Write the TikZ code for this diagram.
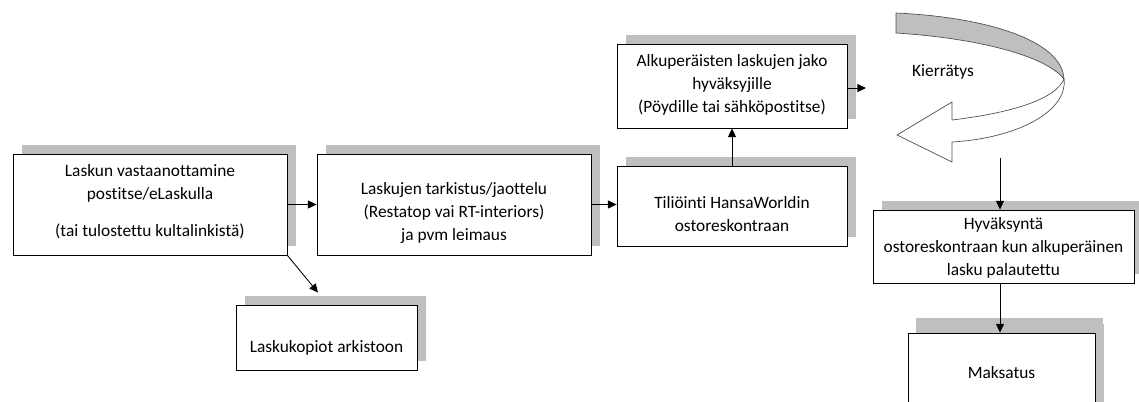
\documentclass[tikz,border=0pt]{standalone}
\usepackage{fontspec}
\setmainfont{Carlito}[Ligatures=NoCommon]
\usetikzlibrary{shadows,arrows.meta}

\begin{document}
\begin{tikzpicture}
 [x=0.75pt, y=-0.75pt, >={Triangle[length=6.5pt,width=6pt]},
  box/.style={draw, line width=0.65pt, fill=white,
    drop shadow={shadow xshift=7pt, shadow yshift=7pt, fill=black!25, opacity=1}},
  txt/.style={align=center, font=\fontsize{13}{17.25}\selectfont},
  link/.style={->, line width=0.65pt}]

\useasboundingbox (0,0) rectangle (1139,401);

% boxes
\node[box, minimum width=205.5pt, minimum height=75.75pt] (vastaanotto) at (150,204.5) {};
\node[box, minimum width=205.5pt, minimum height=75.75pt] (tarkistus) at (454,204.5) {};
\node[box, minimum width=172.5pt, minimum height=60pt] (tiliointi) at (732,206) {};
\node[box, minimum width=172.5pt, minimum height=63pt] (jako) at (732,86) {};
\node[box, minimum width=135.75pt, minimum height=48.75pt] (arkisto) at (326.5,337.5) {};
\node[box, minimum width=195.75pt, minimum height=54.75pt] (hyvaksynta) at (1003.5,246.5) {};
\node[box, minimum width=140.25pt, minimum height=60pt,
  drop shadow={shadow xshift=6pt, shadow yshift=11pt, fill=black!25, opacity=1}] (maksatus) at (1001.5,373) {};

% texts
\node[txt] (vastaanotto-t) at (150,202) {Laskun vastaanottamine\\ postitse/eLaskulla\\[10.5pt] (tai tulostettu kultalinkistä)};
\node[txt] (tarkistus-t) at (454,213) {Laskujen tarkistus/jaottelu\\ (Restatop vai RT-interiors)\\ ja pvm leimaus};
\node[txt] (tiliointi-t) at (732,214.5) {Tiliöinti HansaWorldin\\ ostoreskontraan};
\node[txt] (jako-t) at (732,85) {Alkuperäisten laskujen jako\\ hyväksyjille\\ (Pöydille tai sähköpostitse)};
\node[txt] (arkisto-t) at (326.5,348) {Laskukopiot arkistoon};
\node[txt] (hyvaksynta-t) at (1003.5,248) {Hyväksyntä\\ ostoreskontraan kun alkuperäinen\\ lasku palautettu};
\node[txt] (maksatus-t) at (1001.5,373) {Maksatus};
\node[txt] (kierto-t) at (943,72) {Kierrätys};

% curved arrow
\fill[black!25, draw=black!70, line width=0.5pt] (896,13) .. controls (985,17) and (1062,40) .. (1064,79)
  .. controls (1045,55) and (975,38) .. (896,33) -- cycle;
\draw[fill=white, draw=black!70, line width=0.5pt] (1064,79) .. controls (1068,110) and (1020,138) .. (952,142)
  -- (952,162) -- (897,135) -- (952,102) -- (952,120)
  .. controls (1010,113) and (1055,100) .. (1064,79);

\coordinate (kierto-in) at (866,88);
\coordinate (kierto-out) at (1000,158);

% connectors
\draw[link] (vastaanotto.east) -- (tarkistus.west);
\draw[link] (tarkistus.east) -- (tarkistus.east -| tiliointi.west);
\draw[link] (tiliointi.north) -- (jako.south);
\draw[link] (jako.east |- kierto-in) -- (kierto-in);
\draw[link] (vastaanotto.south east) -- ([shift={(-8.5,-12)}]arkisto.north);
\draw[link] (kierto-out) -- (kierto-out |- hyvaksynta.north);
\draw[link] (hyvaksynta.south -| kierto-out) -- (maksatus.north -| kierto-out);

\end{tikzpicture}
\end{document}
